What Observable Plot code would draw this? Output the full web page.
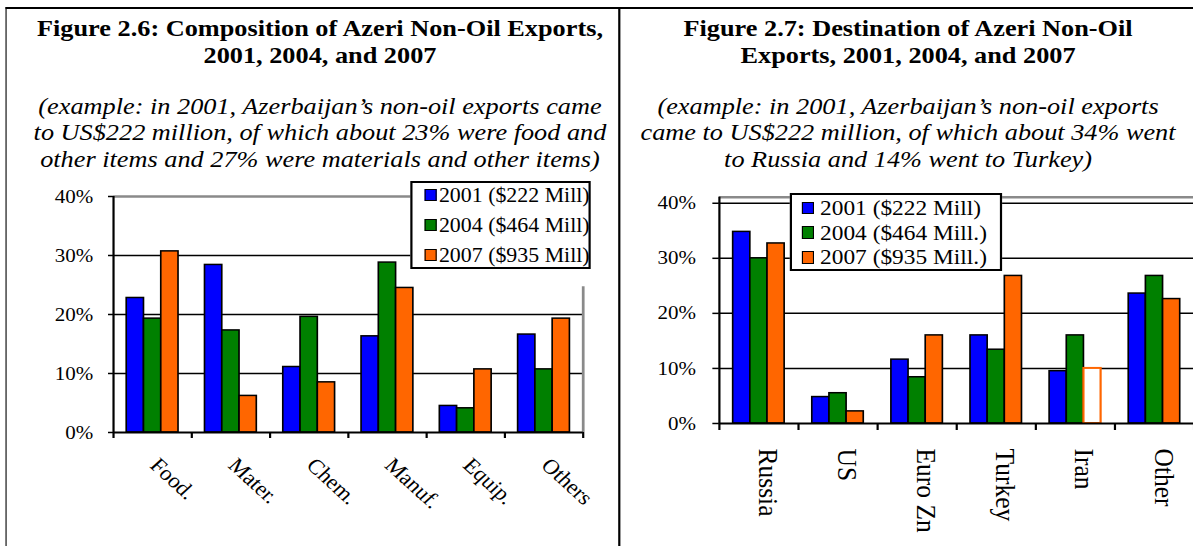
<!DOCTYPE html>
<html>
<head>
<meta charset="utf-8">
<script src="https://cdn.jsdelivr.net/npm/d3@7"></script>
<script src="https://cdn.jsdelivr.net/npm/@observablehq/plot@0.6"></script>
<style>
  html, body { margin: 0; padding: 0; background: #fff; overflow: hidden; }
  #page { position: relative; height: 546px; font-family: "Liberation Serif", "Times New Roman", Times, serif; color: #000; }
  .title { position: absolute; white-space: nowrap; text-align: center; font-weight: bold; font-size: 23.9px; line-height: 27px; transform: translateX(-50%); }
  .sub { position: absolute; white-space: nowrap; text-align: center; font-style: italic; font-size: 23.9px; line-height: 26.5px; transform: translateX(-50%); }
</style>
</head>
<body>
<div id="page"></div>
<script>
// ---------- data ----------
const years = ["2001", "2004", "2007"];

const compCats = ["Food.", "Mater.", "Chem.", "Manuf.", "Equip.", "Others"];
const comp2001 = [22.8, 28.4, 11.1, 16.3, 4.5, 16.6];
const comp2004 = [19.3, 17.3, 19.6, 28.8, 4.1, 10.7];
const comp2007 = [30.7, 6.2, 8.5, 24.5, 10.7, 19.3];

const destCats = ["Russia", "US", "Euro Zn", "Turkey", "Iran", "Other"];
const dest2001 = [34.8, 4.8, 11.6, 16.0, 9.5, 23.6];
const dest2004 = [30.0, 5.5, 8.4, 13.4, 16.0, 26.8];
const dest2007 = [32.7, 2.2, 16.0, 26.8, 10.0, 22.6];
const estimated = ["Iran|2007"];   // drawn as an outlined (hollow) bar

const yTicks = [0, 10, 20, 30, 40];

const leftLegend = ["2001 ($222 Mill)", "2004 ($464 Mill)", "2007 ($935 Mill)"];
const rightLegend = ["2001 ($222 Mill)", "2004 ($464 Mill.)", "2007 ($935 Mill.)"];

const leftTitle = ["Figure 2.6: Composition of Azeri Non-Oil Exports,", "2001, 2004, and 2007"];
const leftSub = ["(example: in 2001, Azerbaijan\u2019s non-oil exports came",
                 "to US$222 million, of which about 23% were food and",
                 "other items and 27% were materials and other items)"];
const rightTitle = ["Figure 2.7: Destination of Azeri Non-Oil", "Exports, 2001, 2004, and 2007"];
const rightSub = ["(example: in 2001, Azerbaijan\u2019s non-oil exports",
                  "came to US$222 million, of which about 34% went",
                  "to Russia and 14% went to Turkey)"];

// ---------- styling ----------
const colors = ["#0000ff", "#008000", "#ff6600"];
const S = 1.1;                 // horizontal stretch of the reference
const W = 1193 / S;
const FONT = '"Liberation Serif", "Times New Roman", Times, serif';

const page = document.getElementById("page");
page.style.width = W + "px";
page.style.transform = `scaleX(${S})`;
page.style.transformOrigin = "0 0";

function addDiv(css, text) {
  const d = document.createElement("div");
  Object.assign(d.style, {position: "absolute"}, css);
  if (text != null) d.textContent = text;
  page.appendChild(d);
  return d;
}

// frame lines
addDiv({left: "4.5px", top: "7px", width: (W - 4.5) + "px", height: "2px", background: "#000"});
addDiv({left: "4.5px", top: "7px", width: "1.8px", height: "539px", background: "#000"});
addDiv({left: "561.8px", top: "7px", width: "1.8px", height: "539px", background: "#000"});

function block(cls, lines, cx, top) {
  const d = document.createElement("div");
  d.className = cls;
  d.style.left = cx + "px";
  d.style.top = top + "px";
  lines.forEach(l => { const e = document.createElement("div"); e.textContent = l; d.appendChild(e); });
  page.appendChild(d);
}
block("title", leftTitle, 290.9, 15);
block("sub", leftSub, 290.9, 92.7);
block("title", rightTitle, 825.5, 15);
block("sub", rightSub, 825.5, 92.7);

function groupedChart(c) {
  const rows = c.cats.flatMap((cat, i) => years.map((yr, j) => ({
    cat, year: yr, value: c.series[j][i], est: estimated.includes(cat + "|" + yr)
  })));
  const band = (c.width - c.mL - c.mR) / c.cats.length;
  const pad = (band - years.length * c.barW) / 2;
  const last = c.cats[c.cats.length - 1];
  const marks = [];
  marks.push(Plot.ruleY(c.grid, {stroke: "#000", strokeWidth: 1.5}));
  marks.push(Plot.ruleY([c.yMax], {stroke: "#8a8a8a", strokeWidth: 2.5}));
  if (c.rightEdge) marks.push(Plot.ruleX([last], {dx: band / 2, y1: 0, y2: c.rightEdge, stroke: "#8a8a8a", strokeWidth: 2.5}));
  years.forEach((yr, j) => {
    const inset = {insetLeft: pad + j * c.barW, insetRight: band - pad - (j + 1) * c.barW};
    marks.push(Plot.barY(rows.filter(d => d.year === yr && !d.est),
      {x: "cat", y: "value", ...inset, fill: colors[j], stroke: "#000", strokeWidth: 1.5}));
    const est = rows.filter(d => d.year === yr && d.est);
    if (est.length) marks.push(Plot.barY(est,
      {x: "cat", y: "value", ...inset, fill: "#fff", stroke: colors[j], strokeWidth: 2}));
  });
  marks.push(Plot.ruleY([0], {stroke: "#000", strokeWidth: 2}));
  marks.push(Plot.ruleX([c.cats[0]], {dx: -band / 2, y1: 0, y2: c.yMax, stroke: "#000", strokeWidth: 2}));
  marks.push(Plot.ruleX(c.cats, {dx: -band / 2, y1: 0, y2: 0, insetBottom: -c.xTick, stroke: "#000", strokeWidth: 2}));
  marks.push(Plot.ruleX([last], {dx: band / 2, y1: 0, y2: 0, insetBottom: -c.xTick, stroke: "#000", strokeWidth: 2}));
  marks.push(Plot.axisY({ticks: yTicks, tickFormat: d => d + "%", tickSize: c.yTickSize, tickPadding: c.yTickPad,
    fontSize: c.tickFont, strokeWidth: 1.5, label: null, fill: "#000", stroke: "#000"}));
  marks.push(Plot.text(c.cats, {x: d => d, frameAnchor: "bottom", rotate: c.rot, textAnchor: "start",
    dx: c.ldx, dy: c.ldy, fontSize: c.labelFont, fill: "#000"}));

  const svg = Plot.plot({
    width: c.width, height: c.height,
    marginLeft: c.mL, marginRight: c.mR, marginTop: c.mT, marginBottom: c.mB,
    x: {type: "band", domain: c.cats, padding: 0, round: false, axis: null},
    y: {domain: [0, c.yMax]},
    style: {fontFamily: FONT, fontSize: "19px", color: "#000", background: "transparent", overflow: "visible"},
    marks
  });
  Object.assign(svg.style, {position: "absolute", left: c.left + "px", top: c.top + "px", maxWidth: "none"});
  page.appendChild(svg);
}

groupedChart({
  cats: compCats, series: [comp2001, comp2004, comp2007],
  left: 0, top: 176, width: 561.8, height: 370,
  mL: 102.7, mR: 32.1, mT: 20, mB: 114,
  yMax: 40, grid: [10, 20, 30], rightEdge: 24.7,
  barW: 15.7, yTickSize: 4.5, yTickPad: 13.9, tickFont: 19.1, xTick: 6,
  rot: 45, ldx: -3.6, ldy: 34, labelFont: 21
});

groupedChart({
  cats: destCats, series: [dest2001, dest2004, dest2007],
  left: 564.5, top: 176, width: W - 564.5, height: 370,
  mL: 88.5, mR: 0, mT: 20.7, mB: 123,
  yMax: 41.1, grid: [10, 20, 30, 40], rightEdge: null,
  barW: 15.6, yTickSize: 5.9, yTickPad: 15.3, tickFont: 19.1, xTick: 7,
  rot: 90, ldx: 0, ldy: 25, labelFont: 25.5
});

function legend(l) {
  addDiv({left: l.box[0] + "px", top: l.box[1] + "px", width: l.box[2] + "px", height: l.box[3] + "px",
    border: `${l.border}px solid #000`, background: "#fff", boxSizing: "border-box"});
  l.labels.forEach((lab, j) => {
    const cy = l.rows[j];
    addDiv({left: l.mx + "px", top: (cy - l.mh / 2) + "px", width: l.mw + "px", height: l.mh + "px",
      background: colors[j], border: "1.4px solid #000", boxSizing: "border-box"});
    addDiv({left: l.tx + "px", top: cy + "px", transform: "translateY(-50%)", fontSize: l.fs + "px",
      whiteSpace: "nowrap", lineHeight: "normal"}, lab);
  });
}

legend({labels: leftLegend, box: [373.4, 181, 163.6, 88.3], border: 2.8,
  rows: [195, 225, 255], mx: 385.5, mw: 11, mh: 11.5, tx: 399, fs: 19.9});
legend({labels: rightLegend, box: [717.9, 192.7, 193.3, 78], border: 2,
  rows: [208, 232.7, 257.3], mx: 729.1, mw: 11, mh: 12.5, tx: 745.5, fs: 21.25});
</script>
</body>
</html>
